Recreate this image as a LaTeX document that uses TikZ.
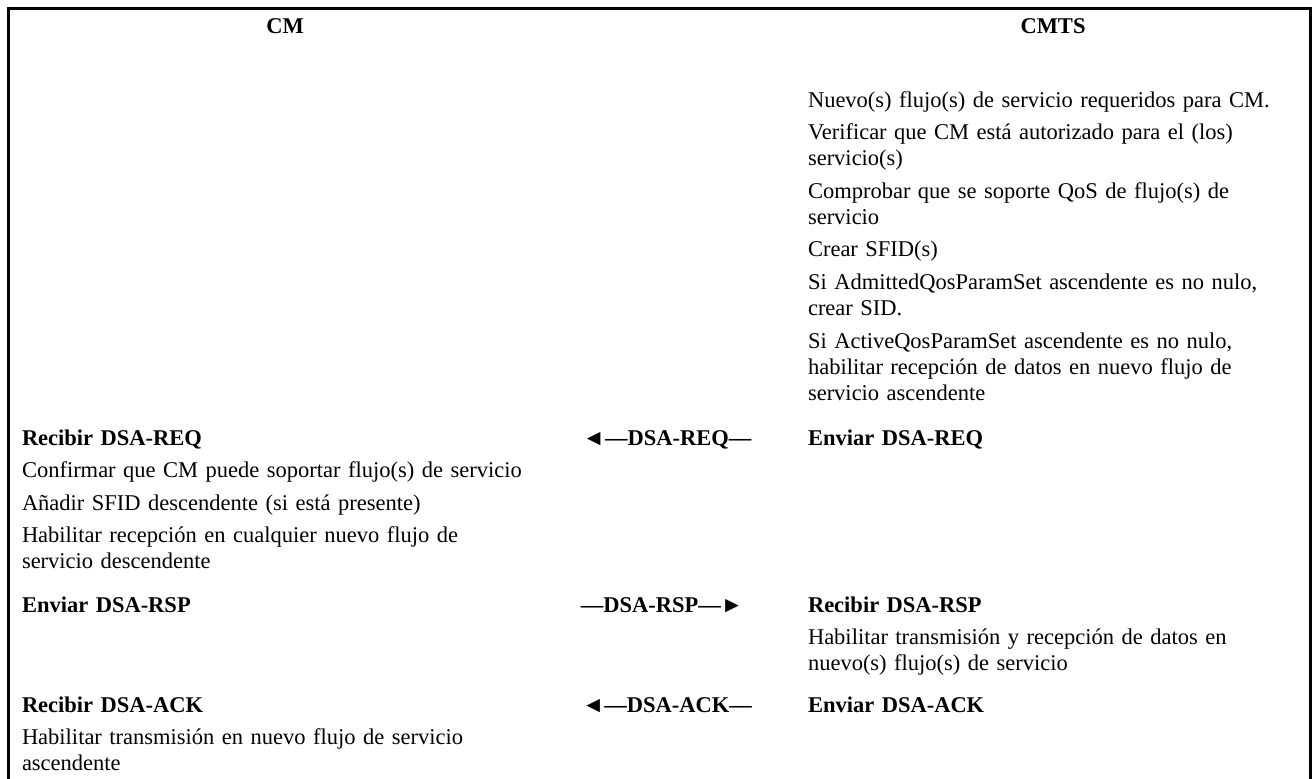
\documentclass[tikz,border=0pt]{standalone}
\usepackage{fontspec}
\setmainfont{Liberation Serif}
\begin{document}
\begin{tikzpicture}[x=0.75pt,y=-0.75pt,
  txt/.style={inner sep=0pt, outer sep=0pt, anchor=base west, text width=400pt, align=left,
    font=\fontsize{16.875}{19.5}\selectfont},
  bold/.style={txt, font=\fontsize{16.875}{19.5}\selectfont\bfseries},
  head/.style={inner sep=0pt, anchor=base, font=\fontsize{16.875}{19.5}\selectfont\bfseries},
  msg/.style={inner sep=0pt, anchor=base, font=\fontsize{16.875}{19.5}\selectfont\bfseries},
  frame/.style={line width=2.25pt}]
\useasboundingbox (0,0) rectangle (1313,778);

% outer frame, open at the bottom
\coordinate (fbl) at (8,790);
\coordinate (ftl) at (8,8);
\coordinate (ftr) at (1310,8);
\coordinate (fbr) at (1310,790);
\draw[frame] (fbl) -- (ftl) -- (ftr) -- (fbr);

% column headings
\node[head] (cm) at (285,33) {CM};
\node[head] (cmts) at (1053,33) {CMTS};

% CMTS preparation
\node[txt] (c1) at (808,107) {Nuevo(s) flujo(s) de servicio requeridos para CM.};
\node[txt] (c2) at (808,139.6) {Verificar que CM está autorizado para el (los)\\servicio(s)};
\node[txt] (c3) at (808,198.2) {Comprobar que se soporte QoS de flujo(s) de\\servicio};
\node[txt] (c4) at (808,256.8) {Crear SFID(s)};
\node[txt] (c5) at (808,289.4) {Si AdmittedQosParamSet ascendente es no nulo,\\crear SID.};
\node[txt] (c6) at (808,348) {Si ActiveQosParamSet ascendente es no nulo,\\habilitar recepción de datos en nuevo flujo de\\servicio ascendente};

% DSA-REQ
\node[bold] (reqin) at (22,445) {Recibir DSA-REQ};
\node[txt] (m1) at (22,477.6) {Confirmar que CM puede soportar flujo(s) de servicio};
\node[txt] (m2) at (22,510.2) {Añadir SFID descendente (si está presente)};
\node[txt] (m3) at (22,542.8) {Habilitar recepción en cualquier nuevo flujo de\\servicio descendente};
\node[msg] (req) at (667,445) {◄—DSA-REQ—};
\node[bold] (reqout) at (808,445) {Enviar DSA-REQ};

% DSA-RSP
\node[bold] (rspout) at (22,612) {Enviar DSA-RSP};
\node[msg] (rsp) at (662,612) {—DSA-RSP—►};
\node[bold] (rspin) at (808,612) {Recibir DSA-RSP};
\node[txt] (c7) at (808,644.6) {Habilitar transmisión y recepción de datos en\\nuevo(s) flujo(s) de servicio};

% DSA-ACK
\node[bold] (ackin) at (22,712) {Recibir DSA-ACK};
\node[txt] (m4) at (22,744.6) {Habilitar transmisión en nuevo flujo de servicio\\ascendente};
\node[msg] (ack) at (667,712) {◄—DSA-ACK—};
\node[bold] (ackout) at (808,712) {Enviar DSA-ACK};
\end{tikzpicture}
\end{document}
